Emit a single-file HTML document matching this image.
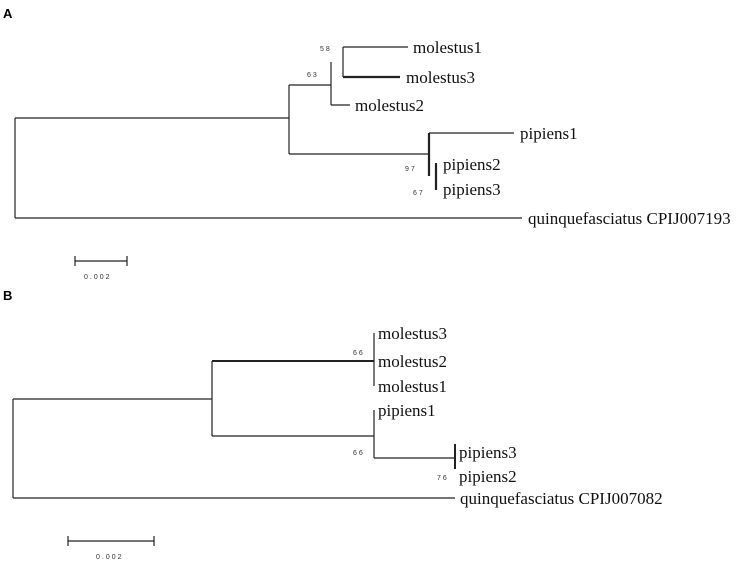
<!DOCTYPE html>
<html><head><meta charset="utf-8"><style>
html,body{margin:0;padding:0;background:#fff;}
svg{display:block;}
.t{font-family:"Liberation Serif",serif;font-size:17px;fill:#111;}
.s{font-family:"Liberation Sans",sans-serif;font-size:7px;fill:#333;letter-spacing:2px;}
.h{font-family:"Liberation Sans",sans-serif;font-size:13px;font-weight:bold;fill:#000;}
</style></head><body>
<svg width="756" height="567" viewBox="0 0 756 567" xmlns="http://www.w3.org/2000/svg">
<g stroke="#222" stroke-width="1.2" fill="none">
<!-- Panel A -->
<path d="M15 118V218M15 118H289M289 85V154M289 85H331M331 62V105M331 105H350M343 47V77M343 47H408M343 77H400M289 154H429M429 133V176M429 133H514M436 163V190M15 218H522"/>
<path d="M343 77H400M429 133V176M436 163V190" stroke-width="2.2"/>
<path d="M75 261H127M75 256V266M127 256V266"/>
<!-- Panel B -->
<path d="M13 399V498M13 399H212M212 361V436M212 361H374M374 333V386M212 436H374M374 410V458M374 458H455M455 444V469M13 498H455"/>
<path d="M212 361H374M455 444V469" stroke-width="2"/>
<path d="M68 541H154M68 536V546M154 536V546"/>
</g>
<text class="h" x="3" y="18">A</text>
<text class="h" x="3" y="300">B</text>
<text class="t" x="413" y="53">molestus1</text>
<text class="t" x="406" y="83">molestus3</text>
<text class="t" x="355" y="111">molestus2</text>
<text class="t" x="520" y="139">pipiens1</text>
<text class="t" x="443" y="170">pipiens2</text>
<text class="t" x="443" y="195">pipiens3</text>
<text class="t" x="528" y="224">quinquefasciatus CPIJ007193</text>
<text class="s" x="320" y="51">58</text>
<text class="s" x="307" y="77">63</text>
<text class="s" x="405" y="171">97</text>
<text class="s" x="413" y="195">67</text>
<text class="s" x="84" y="279">0.002</text>
<text class="t" x="378" y="339">molestus3</text>
<text class="t" x="378" y="367">molestus2</text>
<text class="t" x="378" y="392">molestus1</text>
<text class="t" x="378" y="416">pipiens1</text>
<text class="t" x="459" y="458">pipiens3</text>
<text class="t" x="459" y="482">pipiens2</text>
<text class="t" x="460" y="504">quinquefasciatus CPIJ007082</text>
<text class="s" x="353" y="355">66</text>
<text class="s" x="353" y="455">66</text>
<text class="s" x="437" y="480">76</text>
<text class="s" x="96" y="559">0.002</text>
</svg>
</body></html>
